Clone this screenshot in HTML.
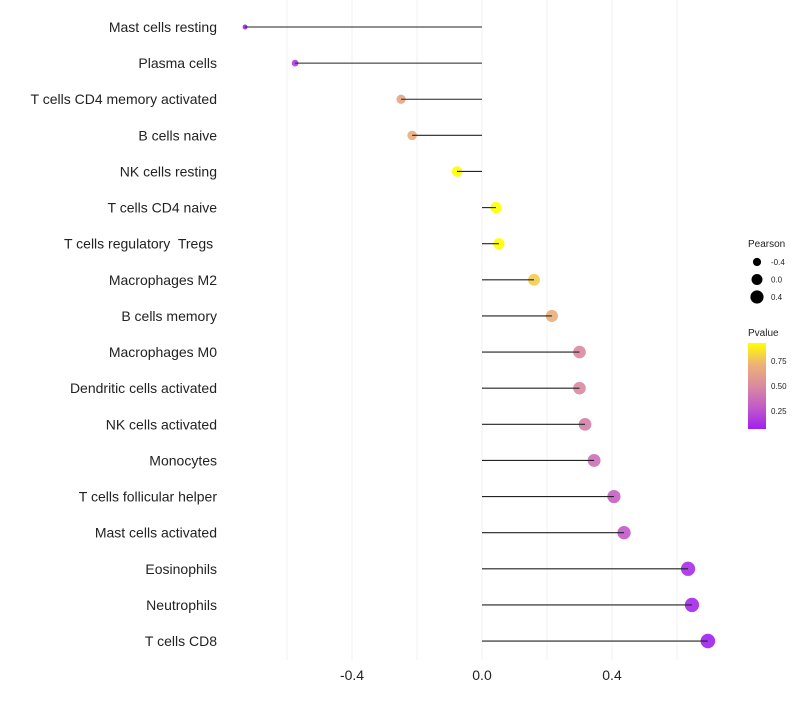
<!DOCTYPE html>
<html><head><meta charset="utf-8"><style>
body{margin:0;background:#fff;font-family:"Liberation Sans",sans-serif}
</style></head><body>
<svg id="chart" width="800" height="700" xmlns="http://www.w3.org/2000/svg"></svg>
<script>
const categories=["Mast cells resting","Plasma cells","T cells CD4 memory activated","B cells naive","NK cells resting","T cells CD4 naive","T cells regulatory  Tregs ","Macrophages M2","B cells memory","Macrophages M0","Dendritic cells activated","NK cells activated","Monocytes","T cells follicular helper","Mast cells activated","Eosinophils","Neutrophils","T cells CD8"];
const pearson=[-0.729,-0.575,-0.249,-0.215,-0.077,0.043,0.052,0.16,0.215,0.30,0.30,0.317,0.345,0.406,0.437,0.634,0.646,0.695];
const pvalues=[0.05,0.15,0.65,0.70,0.95,0.97,0.95,0.80,0.70,0.50,0.50,0.45,0.38,0.30,0.27,0.10,0.08,0.04];
const xTicks=[-0.4,0,0.4];
const xTickLabels=["-0.4","0.0","0.4"];
const sizeLegend=[-0.4,0,0.4];
const pvalTicks=[0.75,0.5,0.25];

const NS="http://www.w3.org/2000/svg";
const svg=document.getElementById('chart');
function el(t,a,p){const e=document.createElementNS(NS,t);for(const k in a)e.setAttribute(k,a[k]);(p||svg).appendChild(e);return e;}
const xS=v=>482+v*325;
const yS=i=>27+i*36.12;
const rS=v=>Math.sqrt(Math.max(4,30+33*v));
const stops=[[0,[160,32,240]],[0.25,[194,90,200]],[0.5,[218,138,160]],[0.75,[237,178,118]],[1,[255,255,0]]];
function col(p){const t=Math.max(0,Math.min(1,(p-0.05)/0.9));for(let i=1;i<stops.length;i++){if(t<=stops[i][0]){const a=stops[i-1],b=stops[i];const f=(t-a[0])/(b[0]-a[0]);const c=a[1].map((v,j)=>Math.round(v+(b[1][j]-v)*f));return `rgb(${c})`;}}return 'rgb(255,255,0)';}

for(let g=-0.6;g<=0.61;g+=0.2){
  const gl=el('line',{x1:xS(g),x2:xS(g),y1:0,y2:660,stroke:'#f0f0f0','stroke-width':1});
  
  
}
xTicks.forEach((v,i)=>{
  const t=el('text',{x:xS(v),y:680,'text-anchor':'middle','font-size':14,fill:'#222'});
  t.textContent=xTickLabels[i];
  
  
});
categories.forEach((c,i)=>{
  const y=yS(i);
  const t=el('text',{x:217,y:y+5,'text-anchor':'end','font-size':14,fill:'#222'});
  t.setAttribute('xml:space','preserve');
  t.style.whiteSpace='pre';
  t.textContent=c;
  
  
  const d=el('circle',{cx:xS(pearson[i]),cy:y,r:rS(pearson[i]),fill:col(pvalues[i]),'fill-opacity':0.9});
  
  
  const l=el('line',{x1:xS(0),x2:xS(pearson[i]),y1:y,y2:y,stroke:'#222','stroke-width':1.1});
  
  
});
const lt=el('text',{x:748,y:247,'font-size':10,fill:'#222'});lt.textContent='Pearson';


sizeLegend.forEach((v,i)=>{
  const y=262+i*17.5;
  const c=el('circle',{cx:757,cy:y,r:rS(v),fill:'#000'});
  
  
  const t=el('text',{x:771,y:y+3,'font-size':8,fill:'#222'});t.textContent=v===0?'0.0':String(v);
  
  
});
const pt=el('text',{x:748,y:336,'font-size':10,fill:'#222'});pt.textContent='Pvalue';


const defs=el('defs',{});
const lg=el('linearGradient',{id:'pg',x1:0,y1:1,x2:0,y2:0},defs);
stops.forEach(s=>el('stop',{offset:s[0],'stop-color':`rgb(${s[1]})`},lg));
const bar=el('rect',{x:748,y:343,width:18,height:86,fill:'url(#pg)'});


pvalTicks.forEach(v=>{
  const y=436-v*100;
  const t=el('text',{x:771,y:y+3,'font-size':8,fill:'#222'});t.textContent=v.toFixed(2);
  
  
});
</script>
</body></html>
